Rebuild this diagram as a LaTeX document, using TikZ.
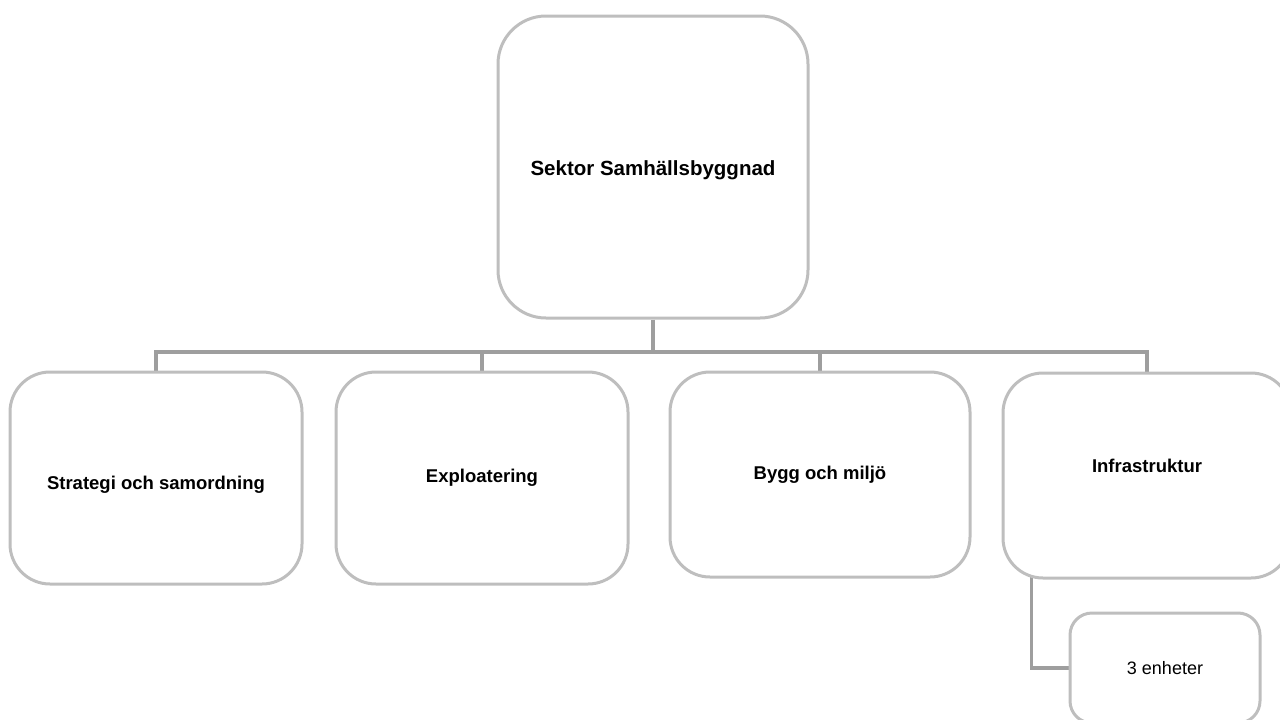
\documentclass[tikz,border=0pt]{standalone}
\usepackage{fontspec}
\setmainfont{Liberation Sans}
\pgfdeclarelayer{background}
\pgfsetlayers{background,main}
\definecolor{boxline}{RGB}{190,190,190}
\definecolor{connline}{RGB}{158,158,158}
\tikzset{
  orgbox/.style={draw=boxline, line width=3pt, fill=white, rounded corners=40pt, inner sep=0pt},
  topfont/.style={font=\fontsize{20.5pt}{24pt}\selectfont\bfseries},
  midfont/.style={font=\fontsize{18.5pt}{22pt}\selectfont\bfseries},
  topbox/.style={orgbox, rounded corners=48pt, topfont},
  midbox/.style={orgbox, midfont},
  subbox/.style={orgbox, rounded corners=22pt, font=\fontsize{18pt}{22pt}\selectfont},
  conn/.style={draw=connline, line width=3.5pt}
}
\begin{document}
\begin{tikzpicture}[x=1pt,y=-1pt]
\useasboundingbox (0,0) rectangle (1280,720);
\clip (0,0) rectangle (1280,720);
\node[topbox, minimum width=310pt, minimum height=302pt,
  label={[topfont, yshift=-3pt]center:Sektor Samhällsbyggnad}] (top) at (653,167) {};
\node[midbox, minimum width=292pt, minimum height=212pt,
  label={[midfont, yshift=-7pt]center:Strategi och samordning}] (b1) at (156,478) {};
\node[midbox, minimum width=292pt, minimum height=212pt] (b2) at (482,478) {Exploatering};
\node[midbox, minimum width=300pt, minimum height=205pt] (b3) at (820,474.5) {Bygg och miljö};
\node[midbox, minimum width=288pt, minimum height=205pt,
  label={[midfont, yshift=10pt]center:Infrastruktur}] (b4) at (1147,475.5) {};
\node[subbox, minimum width=190pt, minimum height=110pt] (sub) at (1165,668) {3 enheter};
\coordinate (bus) at (0,352);
\begin{pgfonlayer}{background}
\draw[conn] (top.south) -- (top.south |- bus);
\draw[conn, line cap=rect] (b1.north |- bus) -- (b4.north |- bus);
\draw[conn] (b1.north |- bus) -- (b1.north);
\draw[conn] (b2.north |- bus) -- (b2.north);
\draw[conn] (b3.north |- bus) -- (b3.north);
\draw[conn] (b4.north |- bus) -- (b4.north);
\draw[conn] ([xshift=30pt,yshift=8pt]b4.south west) |- (sub.west);
\end{pgfonlayer}
\end{tikzpicture}
\end{document}
